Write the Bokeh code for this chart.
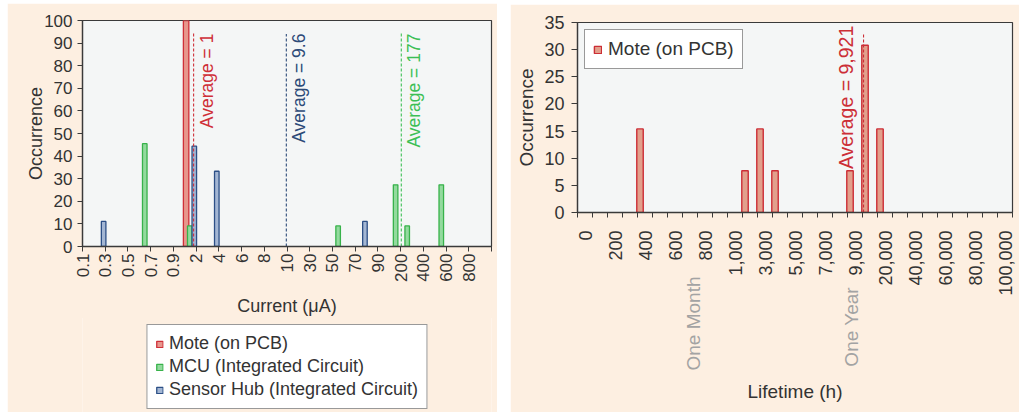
from math import pi

import numpy as np
from bokeh.embed import file_html
from bokeh.layouts import column, row
from bokeh.models import (ColumnDataSource, FixedTicker, Label, Legend,
                          LegendItem, LinearAxis, Range1d, SingleIntervalTicker)
from bokeh.plotting import figure
from bokeh.resources import INLINE
from bokeh.transform import dodge

FONT = "Liberation Sans"
PEACH = "#fdefe1"
FRAME = "#f4f6f6"
INK = "#333333"

RED_FILL, RED_LINE = "#e7968c", "#cf2f38"
GRN_FILL, GRN_LINE = "#93da9e", "#37b24a"
BLU_FILL, BLU_LINE = "#a3b6d3", "#2c4f86"

# ---------------- current consumption ----------------
current_labels = ["0.1", "0.3", "0.5", "0.7", "0.9", "2", "4", "6", "8", "10",
                  "30", "50", "70", "90", "200", "400", "600", "800"]
# positions are given in steps of the stepped current scale (one step per label)
mote_current_pos = [4.56]
mote_current_occ = [100.0]
mcu_current_pos = [2.74, 4.72, 11.25, 13.78, 14.29, 15.79]
mcu_current_occ = [45.5, 9.1, 9.1, 27.3, 9.1, 27.3]
hub_current_pos = [0.93, 4.92, 5.91, 12.43]
hub_current_occ = [11.1, 44.4, 33.3, 11.1]
current_avg_text = ["Average = 1", "Average = 9.6", "Average = 177"]
current_avg_pos = [4.89, 8.97, 14.03]
current_avg_top = [95, 94, 95]
current_avg_color = [RED_LINE, "#2c4a78", "#3cbf55"]
series_names = ["Mote (on PCB)", "MCU (Integrated Circuit)",
                "Sensor Hub (Integrated Circuit)"]

# ---------------- lifetime ----------------
lifetime_bins = [0, 100, 200, 300, 400, 500, 600, 700, 800, 900,
                 1000, 2000, 3000, 4000, 5000, 6000, 7000, 8000, 9000, 10000,
                 20000, 30000, 40000, 50000, 60000, 70000, 80000, 90000, 100000]
lifetime_labels = ["0", "200", "400", "600", "800", "1,000", "3,000", "5,000",
                   "7,000", "9,000", "20,000", "40,000", "60,000", "80,000", "100,000"]
mote_life_h = [400, 2000, 3000, 4000, 9000, 10000, 20000]
mote_life_occ = [15.4, 7.7, 15.4, 7.7, 7.7, 30.8, 15.4]
life_avg_text = "Average = 9,921"
life_avg_pos = 19.07
life_avg_top = 33
life_marks = ["One Month", "One Year\u00a0\u00a0"]
life_marks_h = [720, 8760]


def style_common(p, tick_size, label_size):
    p.background_fill_color = FRAME
    p.border_fill_color = PEACH
    p.outline_line_color = "#3a3a3a"
    p.outline_line_width = 1.2
    p.xgrid.visible = False
    p.ygrid.visible = False
    for ax in (p.xaxis[0], p.yaxis[0]):
        ax.axis_line_color = "#3a3a3a"
        ax.axis_line_width = 1.3
        ax.major_tick_line_color = "#3a3a3a"
        ax.major_tick_in = 0
        ax.major_label_text_font = FONT
        ax.major_label_text_font_size = tick_size
        ax.major_label_text_color = INK
        ax.axis_label_text_font = FONT
        ax.axis_label_text_font_size = label_size
        ax.axis_label_text_font_style = "normal"
        ax.axis_label_text_color = INK


def style_legend(lg, size, glyph):
    lg.label_text_font = FONT
    lg.label_text_font_size = size
    lg.label_text_color = INK
    lg.glyph_width = glyph
    lg.glyph_height = glyph
    lg.label_standoff = 6
    lg.padding = 8
    lg.spacing = 2
    lg.border_line_color = "#333333"
    lg.border_line_width = 1.5
    lg.background_fill_color = "white"
    lg.background_fill_alpha = 1.0


bar_styles = [dict(fill_color=RED_FILL, line_color=RED_LINE),
              dict(fill_color=GRN_FILL, line_color=GRN_LINE),
              dict(fill_color=BLU_FILL, line_color=BLU_LINE)]

# ===== left panel =====
left = figure(width=490, height=315, output_backend="svg", toolbar_location=None,
              x_range=Range1d(0, len(current_labels)), y_range=Range1d(0, 100),
              min_border_left=75, min_border_right=6, min_border_top=17,
              min_border_bottom=72)
style_common(left, "17px", "18px")

n_steps = len(current_labels)
left.xaxis[0].ticker = FixedTicker(ticks=list(range(n_steps + 1)))
overrides = {i: lab for i, lab in enumerate(current_labels)}
overrides[n_steps] = ""
left.xaxis[0].major_label_overrides = overrides
left.xaxis[0].major_label_orientation = pi / 2
left.xaxis[0].major_tick_out = 5
left.xaxis[0].minor_tick_line_color = None
left.xaxis[0].major_label_standoff = 2
left.xaxis[0].axis_label = "Current (μA)"
left.xaxis[0].axis_label_standoff = 11

left.yaxis[0].ticker = SingleIntervalTicker(interval=10)
left.yaxis[0].minor_tick_line_color = None
left.yaxis[0].major_tick_out = 5
left.yaxis[0].major_label_standoff = 5
left.yaxis[0].axis_label = "Occurrence"
left.yaxis[0].axis_label_standoff = -5

left.vbar(x=mote_current_pos, top=mote_current_occ, width=0.24,
          line_width=1.3, **bar_styles[0])
left.vbar(x=mcu_current_pos, top=mcu_current_occ, width=0.2,
          line_width=1.3, **bar_styles[1])
left.vbar(x=hub_current_pos, top=hub_current_occ, width=0.2,
          line_width=1.3, **bar_styles[2])

avg_src = ColumnDataSource(dict(x=current_avg_pos, top=current_avg_top,
                                c=current_avg_color, base=[0] * 3))
left.segment(x0="x", y0="base", x1="x", y1="top", line_color="c",
             line_dash="3 2", line_width=1.1, source=avg_src)
for txt, xp, col in zip(current_avg_text, current_avg_pos, current_avg_color):
    left.add_layout(Label(x=xp, y=94.2, x_offset=3, text=txt, angle=pi / 2,
                          text_align="right", text_baseline="top",
                          text_font=FONT, text_font_size="17.5px",
                          text_color=col))

# legend strip under the current chart; the swatch renderers are tiny
# marks tucked behind the legend box
key = figure(width=490, height=95, output_backend="svg", toolbar_location=None,
             x_range=Range1d(0, 1), y_range=Range1d(0, 1),
             min_border_left=75, min_border_right=6, min_border_top=0,
             min_border_bottom=0)
key.axis.visible = False
key.grid.visible = False
key.outline_line_color = None
key.background_fill_color = PEACH
key.border_fill_color = PEACH
swatches = [key.vbar(x=[0.5], bottom=[0.45], top=[0.5], width=0.01,
                     line_width=1.3, **st)
            for st in bar_styles]
leg_left = Legend(items=[LegendItem(label=n, renderers=[r])
                         for n, r in zip(series_names, swatches)],
                  location="top", margin=7)
style_legend(leg_left, "18px", 8)
key.add_layout(leg_left)

# ===== right panel =====
n_bins = len(lifetime_bins)
right = figure(width=509, height=408, output_backend="svg", toolbar_location=None,
               x_range=Range1d(0, n_bins), y_range=Range1d(0, 35),
               min_border_left=67, min_border_right=7, min_border_top=18,
               min_border_bottom=200)
style_common(right, "18px", "19px")

label_pos = [lifetime_bins.index(int(s.replace(",", ""))) + 0.5 for s in lifetime_labels]
right.xaxis[0].ticker = FixedTicker(ticks=label_pos, minor_ticks=list(range(n_bins + 1)))
right.xaxis[0].major_label_overrides = {p: s for p, s in zip(label_pos, lifetime_labels)}
right.xaxis[0].major_label_orientation = pi / 2
right.xaxis[0].major_tick_out = 0
right.xaxis[0].minor_tick_out = 5
right.xaxis[0].minor_tick_in = 0
right.xaxis[0].minor_tick_line_color = "#3a3a3a"
right.xaxis[0].major_label_standoff = 13

# reference marks (one month, one year) on a second, line-less axis below
bin_idx = np.arange(n_bins)
mark_pos = [float(np.interp(h, lifetime_bins, bin_idx)) + 0.5 for h in life_marks_h]
mark_axis = LinearAxis(ticker=FixedTicker(ticks=mark_pos),
                       major_label_overrides={p: s for p, s in zip(mark_pos, life_marks)},
                       major_label_orientation=pi / 2,
                       major_label_standoff=-28,
                       major_label_text_font=FONT, major_label_text_font_size="19px",
                       major_label_text_color="#a3a3a3",
                       axis_line_color=None, major_tick_line_color=None,
                       minor_tick_line_color=None,
                       axis_label="Lifetime (h)", axis_label_standoff=8,
                       axis_label_text_font=FONT, axis_label_text_font_size="19px",
                       axis_label_text_font_style="normal", axis_label_text_color=INK)
right.add_layout(mark_axis, "below")

right.yaxis[0].ticker = SingleIntervalTicker(interval=5)
right.yaxis[0].minor_tick_line_color = None
right.yaxis[0].major_tick_out = 6
right.yaxis[0].major_label_standoff = 7
right.yaxis[0].axis_label = "Occurrence"
right.yaxis[0].axis_label_standoff = 4

life_src = ColumnDataSource(dict(
    bin=[lifetime_bins.index(h) + 0.5 for h in mote_life_h], occ=mote_life_occ))
r_life = right.vbar(x=dodge("bin", -0.333, range=right.x_range), top="occ",
                    width=0.43, fill_color="#e2a08c", line_color="#cc2e36",
                    line_width=1.4, source=life_src)

right.segment(x0=[life_avg_pos], y0=[0], x1=[life_avg_pos], y1=[life_avg_top],
              line_color="#cc2e36", line_dash="3 2", line_width=1.1)
right.add_layout(Label(x=life_avg_pos, y=34.4, x_offset=-7, text=life_avg_text,
                       angle=pi / 2, text_align="right", text_baseline="bottom",
                       text_font=FONT, text_font_size="19.5px", text_color="#cc2e36"))

leg_right = Legend(items=[LegendItem(label=series_names[0], renderers=[r_life])],
                   location="top_left", margin=7)
style_legend(leg_right, "19px", 9)
right.add_layout(leg_right)

left.margin = (3, 0, 0, 7)
key.margin = (-1, 0, 0, 7)
right.margin = (4, 0, 0, 13)

layout = row(column(left, key), column(right))
layout.margin = 0

with open("out.html", "w") as f:
    f.write(file_html(layout, INLINE))
